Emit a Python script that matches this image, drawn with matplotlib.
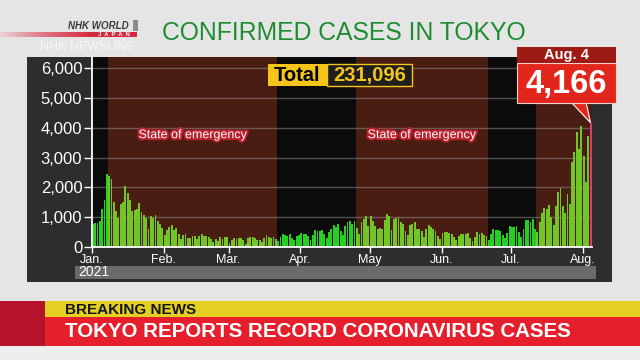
import matplotlib
matplotlib.use('Agg')
import matplotlib.pyplot as plt
import matplotlib.dates as mdates
import matplotlib.patheffects as pe
from matplotlib.patches import Rectangle, Polygon
from matplotlib.colors import LinearSegmentedColormap
from matplotlib.ticker import FuncFormatter
import numpy as np
import pandas as pd

plt.rcParams['font.family'] = ['Liberation Sans', 'DejaVu Sans']

# === Daily confirmed cases in Tokyo, Jan 1 - Aug 4 2021 ===
jan = [783, 814, 816, 884, 1278, 1591, 2447, 2392, 2268, 1494, 1219, 970, 1433, 1502, 2044, 1809,
       1592, 1204, 1240, 1274, 1471, 1175, 1070, 986, 618, 1026, 973, 1064, 868, 769, 633]
feb = [393, 556, 676, 734, 577, 639, 429, 276, 412, 434, 307, 307, 369, 371, 266, 378,
       445, 353, 353, 327, 272, 178, 275, 213, 340, 270, 337, 329]
mar = [121, 232, 316, 279, 301, 293, 237, 116, 290, 340, 335, 304, 239, 239, 175, 300,
       409, 323, 303, 342, 256, 187, 337, 420, 394, 376, 430, 313, 234, 364, 414]
apr = [475, 440, 446, 355, 249, 399, 555, 545, 537, 570, 421, 306, 510, 591, 729, 667,
       759, 543, 405, 711, 843, 861, 759, 876, 635, 425, 828, 925, 1027, 698]
may = [1050, 879, 708, 609, 621, 591, 907, 1121, 1032, 573, 925, 969, 1010, 854, 772, 542,
       419, 732, 766, 843, 614, 620, 535, 340, 603, 743, 684, 614, 539, 380, 260]
jun = [471, 487, 508, 472, 436, 351, 235, 369, 440, 439, 435, 467, 304, 209, 337, 501,
       452, 453, 388, 376, 236, 435, 619, 570, 562, 534, 386, 317, 476, 714]
jul = [673, 660, 716, 518, 342, 593, 920, 896, 822, 950, 614, 502, 830, 1149, 1308, 1271,
       1410, 1008, 727, 1387, 1832, 1979, 1359, 1128, 1763, 1429, 2848, 3177, 3865, 3300, 4058]
aug = [3058, 2195, 3709, 4166]

cases = jan + feb + mar + apr + may + jun + jul + aug
dates = pd.date_range('2021-01-01', periods=len(cases), freq='D')

emergency_periods = [('2021-01-08', '2021-03-21'), ('2021-04-25', '2021-06-20'), ('2021-07-12', '2021-08-04')]
emergency_labels = ['State of emergency', 'State of emergency', '']

month_ticks = ['2021-01-01', '2021-02-01', '2021-03-01', '2021-04-01',
               '2021-05-01', '2021-06-01', '2021-07-01', '2021-08-01']
month_labels = ['Jan.', 'Feb.', 'Mar.', 'Apr.', 'May', 'Jun.', 'Jul.', 'Aug.']
y_ticks = [0, 1000, 2000, 3000, 4000, 5000, 6000]
total_cases = 231096
year_label = '2021'
latest_label = 'Aug. 4'

# colours
BROWN = '#4a1d13'
GREEN_CALM = '#27cf22'
GREEN_EMERG = '#72c526'
LAST_BAR = '#dc3a70'

fig = plt.figure(figsize=(6.4, 3.6), dpi=100, facecolor='#e5e5e5')


def fx(x):
    return x / 640


def fy(y):
    return 1 - y / 360


def box(x0, y0, x1, y1, z=-5, **kw):
    r = Rectangle((fx(x0), fy(y1)), fx(x1) - fx(x0), fy(y0) - fy(y1),
                  transform=fig.transFigure, zorder=z, **kw)
    fig.add_artist(r)
    return r


def label(x, y, s, **kw):
    return fig.text(fx(x), fy(y), s, **kw)


# === Header ===
label(344, 33, 'CONFIRMED CASES IN TOKYO', color='#1f8c33', fontsize=17.8,
      ha='center', va='center')

# NHK logo
logo = fig.add_axes([0, fy(37), fx(137), 5 / 360])
grad = LinearSegmentedColormap.from_list('g', ['#ead0d4', '#e07080', '#d52a3e', '#d52a3e'])
logo.imshow(np.linspace(0, 1, 100)[None, :], aspect='auto', cmap=grad)
logo.axis('off')
box(133, 20, 138, 31, z=2, color='#8c8c8c', lw=0)
label(68, 26, 'NHK WORLD', color='#3c3c3c', fontsize=7, fontweight='bold',
      fontstyle='italic', va='center')
label(98, 34.7, 'J  A  P  A  N', color='white', fontsize=4.2, fontweight='bold', va='center')
label(40, 47.5, 'NHK NEWSLINE', color='#f7f7f7', fontsize=9, va='center')

# === Chart panel ===
box(27, 57, 612, 282, color='#2d2d2d', lw=0)
box(75, 266, 596, 279, z=-4, color='#6a6a6a', lw=0)
label(78, 272.5, year_label, color='white', fontsize=10, va='center')

ax = fig.add_axes([fx(92), fy(247), fx(592) - fx(92), fy(57) - fy(247)])
ax.set_facecolor('#0b0b0b')

one_day = pd.Timedelta(days=1)
in_emerg = np.zeros(len(dates), dtype=bool)
for (s, e), txt in zip(emergency_periods, emergency_labels):
    s, e = pd.Timestamp(s), pd.Timestamp(e)
    ax.axvspan(s, e + one_day, color=BROWN, lw=0, zorder=0)
    in_emerg |= (dates >= s) & (dates <= e)
    if txt:
        mid = s + (e + one_day - s) / 2
        ax.text(mid, 3750, txt, color='white', fontsize=9, ha='center', va='center', zorder=4,
                path_effects=[pe.withStroke(linewidth=3, foreground='#b8202c')])

colors = [GREEN_EMERG if f else GREEN_CALM for f in in_emerg]
colors[-1] = LAST_BAR
ax.bar(dates, cases, width=0.8, align='edge', color=colors, lw=0, zorder=3)

ax.set_xlim(dates[0], dates[-1] + one_day)
ax.set_ylim(0, 6370)
ax.set_yticks(y_ticks)
ax.yaxis.set_major_formatter(FuncFormatter(lambda v, _: f'{int(v):,}'))
ax.set_xticks(pd.to_datetime(month_ticks))
ax.set_xticklabels(month_labels)
ax.grid(axis='y', color='#8a8a8a', alpha=0.55, lw=1, zorder=1)
ax.set_axisbelow(False)

for side in ['top', 'right']:
    ax.spines[side].set_visible(False)
for side in ['left', 'bottom']:
    ax.spines[side].set_color('white')
    ax.spines[side].set_linewidth(1.3)
    ax.spines[side].set_zorder(5)
ax.tick_params(axis='y', colors='white', labelsize=12, length=6, width=1, pad=1)
ax.tick_params(axis='x', colors='white', labelsize=9, length=4, width=1, pad=1)

# === Total box ===
box(268, 64, 327, 86, z=5, color='#f6c51c', lw=0)
box(327, 64, 412, 86, z=5, facecolor='#1e1e1e', edgecolor='#f6c51c', lw=1)
label(297.5, 75.5, 'Total', color='black', fontsize=14.5, fontweight='bold',
      ha='center', va='center', zorder=6)
label(369.5, 75.5, f'{total_cases:,}', color='#f6c51c', fontsize=14.5, fontweight='bold',
      ha='center', va='center', zorder=6)

# === Latest-day callout ===
tip = ax.transData.transform((mdates.date2num(dates[-1] + pd.Timedelta(hours=9)), cases[-1]))
tip = fig.transFigure.inverted().transform(tip)
fig.add_artist(Polygon([(fx(571), fy(102)), (fx(586), fy(102)), tip], closed=True,
                       transform=fig.transFigure, facecolor='#e3261c', edgecolor='white',
                       lw=0.8, zorder=6))
box(517, 63, 616, 103, z=7, facecolor='#e3261c', edgecolor='#f4d0cc', lw=0.8)
box(517, 47, 616, 63, z=7, color='#9e1a14', lw=0)
label(566, 55.5, latest_label, color='white', fontsize=10.5, fontweight='bold',
      ha='center', va='center', zorder=8)
label(566.5, 84, f'{cases[-1]:,}', color='white', fontsize=23.5, fontweight='bold',
      ha='center', va='center', zorder=8)

# === Breaking news banner ===
box(0, 301, 45, 346, color='#b7122c', lw=0)
box(45, 301, 640, 317, color='#e4d020', lw=0)
box(45, 317, 640, 346, color='#e61f2c', lw=0)
box(0, 346, 640, 360, color='#eeeeee', lw=0)
label(65, 309.5, 'BREAKING NEWS', color='#151515', fontsize=11, fontweight='bold', va='center')
label(65, 331.5, 'TOKYO REPORTS RECORD CORONAVIRUS CASES', color='white', fontsize=14.8,
      fontweight='bold', va='center')

fig.savefig('out.png', dpi=100, facecolor=fig.get_facecolor())
